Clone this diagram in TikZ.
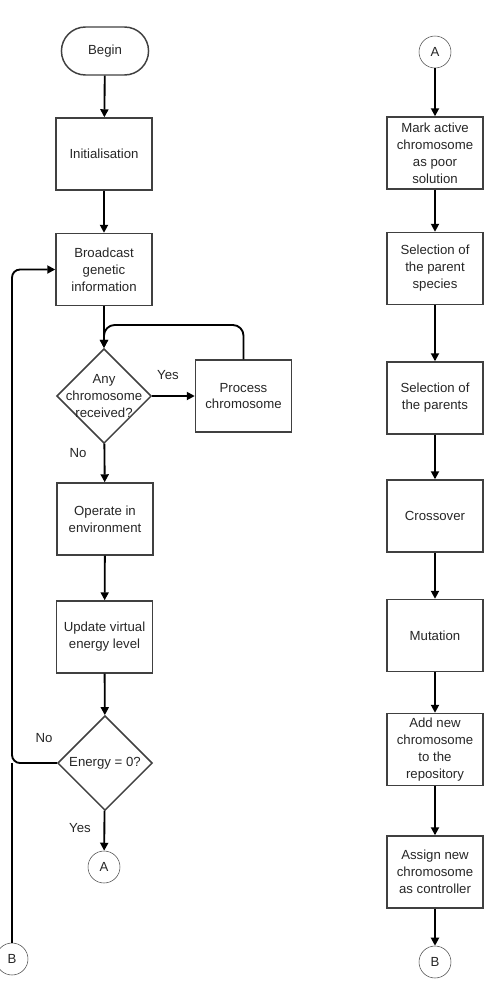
\documentclass[tikz,border=0pt]{standalone}
\usepackage{fontspec}
\setmainfont{Liberation Sans}
\usepackage{tikz}
\usetikzlibrary{positioning}
\usetikzlibrary{arrows.meta}
\usetikzlibrary{shapes.geometric,shapes.misc}
\tikzstyle{line} = [draw, -{Triangle[length=6pt,width=6pt]}, line width=1.4pt]
\tikzstyle{block} = [draw=black!75, line width=1.1pt, minimum width=72pt,
minimum height=54pt, align=center, inner sep=2pt]

\begin{document}
\begin{tikzpicture}[x=0.75pt,y=-0.75pt,
        font=\fontsize{9.9}{12.7}\selectfont, text=black!85,
        term/.style={draw=black!75, line width=1.1pt, rounded rectangle,
            minimum width=72pt, minimum height=36pt},
        decision/.style={draw=black!75, line width=1.1pt, diamond, aspect=1,
            minimum width=71pt, minimum height=71pt, inner sep=0pt},
        plain/.style={align=center, inner sep=0pt},
        conn/.style={draw=black!70, circle, minimum size=24pt, inner sep=0pt}]
        \useasboundingbox (0,0) rectangle (489,993);
        %% Left column
        \node [term] at (105,51) (Begin) {Begin};
        \node [block] at (104,154) (Init) {Initialisation};
        \node [block] at (104,269.5) (Bcast) {Broadcast\\genetic\\information};
        \node [decision] at (104,396) (AnyQ) {};
        \node [plain] at (AnyQ) (AnyQText) {Any\\chromosome\\received?};
        \node [block] at (243.5,396) (Proc) {Process\\chromosome};
        \node [block] at (105,519) (Oper) {Operate in\\environment};
        \node [block] at (104.5,637) (Upd) {Update virtual\\energy level};
        \node [decision] at (105,763) (EnQ) {};
        \node [plain] at (EnQ) (EnQText) {Energy = 0?};
        \node [conn] at (104,867) (ConA) {A};
        \node [conn] at (12,959) (ConB) {B};
        %% Labels
        \node [plain] at (168,375) (YesProc) {Yes};
        \node [plain] at (78,453) (NoProc) {No};
        \node [plain] at (44,738) (NoEn) {No};
        \node [plain] at (80,828) (YesEn) {Yes};
        %% Right column
        \node [conn] at (435,52) (ConA2) {A};
        \node [block] at (435,153) (Mark) {Mark active\\chromosome\\as poor\\solution};
        \node [block] at (435,268.5) (SelSp) {Selection of\\the parent\\species};
        \node [block] at (435,398) (SelPa) {Selection of\\the parents};
        \node [block] at (435,516) (Cross) {Crossover};
        \node [block] at (435,635.5) (Mut) {Mutation};
        \node [block] at (435,749.5) (AddNew) {Add new\\chromosome\\to the\\repository};
        \node [block] at (435,872) (Assign) {Assign new\\chromosome\\as controller};
        \node [conn] at (435,962) (ConB2) {B};
        %% Junctions
        \coordinate (LoopTop) at (104,325);
        \coordinate (LeftMid) at (12,500);
        \coordinate (LeftJoin) at (12,763);
        %% Arcs
        \path [line] (Begin) -- (Init);
        \path [line] (Init) -- (Bcast);
        \path [line] (Bcast) -- (AnyQ);
        \path [line] (AnyQ) -- (Proc);
        \path [line, rounded corners=8pt] (Proc.north) |- (LoopTop) -- (AnyQ.north);
        \path [line] (AnyQ) -- (Oper);
        \path [line] (Oper) -- (Upd);
        \path [line] (Upd) -- (EnQ);
        \path [line] (EnQ) -- (ConA);
        \path [line, rounded corners=6pt] (EnQ.west) -| (LeftMid) |- (Bcast.west);
        \draw [line width=1.4pt] (ConB.north) -- (LeftJoin);
        \foreach \a/\b in {ConA2/Mark, Mark/SelSp, SelSp/SelPa, SelPa/Cross,
            Cross/Mut, Mut/AddNew, AddNew/Assign, Assign/ConB2}
            \path [line] (\a) -- (\b);
    \end{tikzpicture}
\end{document}
